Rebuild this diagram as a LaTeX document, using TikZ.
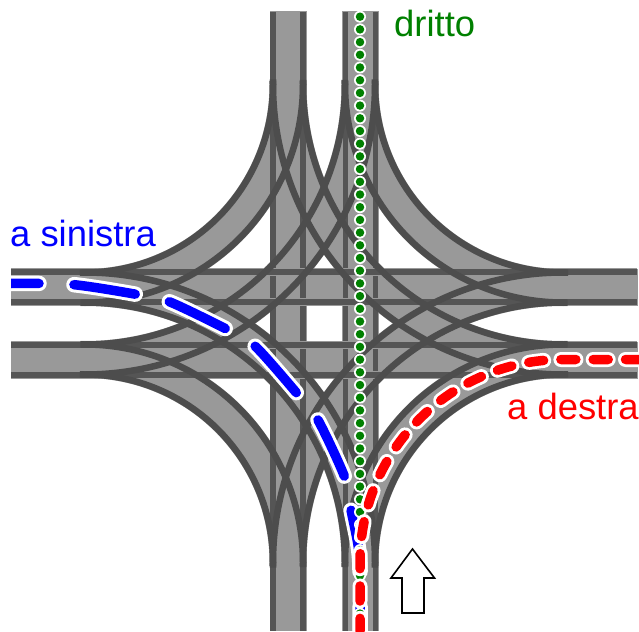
\documentclass[tikz,border=0pt]{standalone}
\usepackage{fontspec}
\setmainfont{Liberation Sans}
\definecolor{roadgrey}{HTML}{999999}
\definecolor{straightline}{HTML}{555555}
\definecolor{rampline}{HTML}{4D4D4D}
\definecolor{dritto}{HTML}{008000}
\tikzset{
    roadband/.style={roadgrey, line width=37pt},
    edgecase/.style={roadgrey, line width=8pt},
    edgeline/.style={straightline, line width=5.5pt},
    rampedge/.style={rampline, line width=6.5pt},
    label/.style={anchor=base west, inner sep=0pt, font=\fontsize{36.4}{40}\selectfont},
    leftdash/.style={dash pattern=on 62pt off 35pt, dash phase=34pt, line cap=round},
    rightdash/.style={dash pattern=on 15pt off 17.3pt, dash phase=1.5pt, line cap=round},
    straightdots/.style={dash pattern=on 0pt off 12.7pt, line cap=round},
}
\newcommand{\leftroute}{plot[smooth] coordinates {(11,283.5) (72,284.5) (140,295) (170,302) (232,332) (256,347) (300,397) (318,420) (345,478) (351,510) (358,545) (360,570) (360,631)}}
\newcommand{\rightroute}{(639,359.5) -- (563,359.5) arc (-90:-180:203) -- (360,631)}
\newcommand{\straightroute}{(360,16.7) -- (360,631)}
\begin{document}
\begin{tikzpicture}[x=1pt,y=-1pt]
    \useasboundingbox (0,0) rectangle (639,631);
    %ramps
    \foreach \a in {0,90,180,270}{
        \begin{scope}[rotate around={\a:(324,323.5)}]
            \foreach \r in {203,275}
                \draw[roadband] (85,84.5) ++(-1:\r) arc (-1:91:\r);
        \end{scope}
    }
    %roads
    \foreach \x in {288,360}
        \draw[roadband] (\x,11.5) -- (\x,631);
    \foreach \y in {287,360}
        \draw[roadband] (10.5,\y) -- (637.5,\y);
    %edges
    \foreach \x in {273,303,345.5,375.5}
        \draw[edgeline] (\x,12) -- (\x,631);
    \foreach \y in {272,302,345,375}{
        \draw[edgecase] (11,\y) -- (637,\y);
        \draw[edgeline] (11,\y) -- (637,\y);
    }
    \foreach \a in {0,90,180,270}{
        \begin{scope}[rotate around={\a:(324,323.5)}]
            \foreach \r in {188,218,260,290}
                \draw[rampedge] (85,84.5) ++(-1:\r) arc (-1:91:\r);
        \end{scope}
    }
    %routes
    \begin{scope}
        \clip (11,0) rectangle (639,631);
        \draw[white, line width=15.5pt, leftdash] \leftroute;
        \draw[blue, line width=9.5pt, leftdash] \leftroute;
    \end{scope}
    \draw[white, line width=12pt, straightdots] \straightroute;
    \draw[dritto, line width=8.5pt, straightdots] \straightroute;
    \draw[white, line width=15pt, rightdash] \rightroute;
    \draw[red, line width=9.5pt, rightdash] \rightroute;
    %arrow
    \draw[black, fill=white, line width=1.6pt] (412.5,549) -- (434.5,578) -- (424,578) -- (424,613) -- (402,613) -- (402,578) -- (391,578) -- cycle;
    %labels
    \node[label, text=dritto] (straightlabel) at (394,37) {dritto};
    \node[label, text=blue] (leftlabel) at (10,246) {a sinistra};
    \node[label, text=red] (rightlabel) at (507,419) {a destra};
\end{tikzpicture}
\end{document}
